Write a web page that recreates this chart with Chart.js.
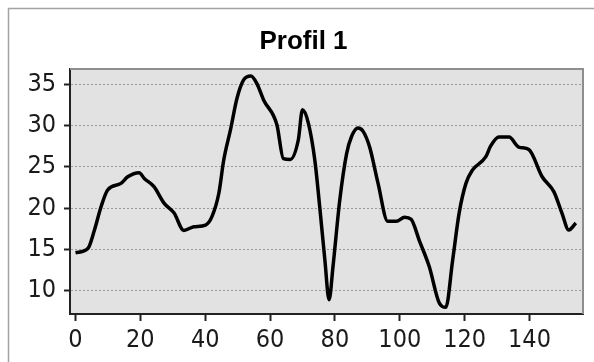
<!DOCTYPE html>
<html>
<head>
<meta charset="utf-8">
<script src="https://cdn.jsdelivr.net/npm/chart.js@4/dist/chart.umd.min.js"></script>
<style>
  html, body { margin: 0; padding: 0; background: #ffffff; }
  #wrap { width: 594px; height: 362px; position: relative; }
</style>
</head>
<body>
<div id="wrap"><canvas id="c" width="594" height="362"></canvas></div>
<script>
const chartTitle = "Profil 1";
const distances = [0, 3.8, 5.8, 7.9, 9.9, 14, 16.1, 19.6, 21.2, 24.2, 27.3, 30.4, 33.4, 36.5, 40.1, 42.1, 44.2, 45.7, 47.8, 49.8, 51.8, 54.1, 55.9, 58.0, 62.1, 64.1, 66.2, 68.7, 70.0, 71.8, 73.8, 75.4, 76.9, 78.2, 79.4, 81.5, 83.6, 85.1, 87.1, 88.7, 90.7, 93.3, 96.3, 98.9, 101.5, 103.5, 106.0, 109.1, 112.2, 114.2, 116.3, 118.3, 120.4, 122.4, 126.5, 128.0, 130.6, 133.7, 136.7, 139.8, 143.9, 147.5, 150.0, 152.1, 154.3];
const heights = [14.6, 15.1, 17.3, 20.2, 22.2, 23.0, 23.8, 24.3, 23.6, 22.6, 20.6, 19.4, 17.3, 17.75, 17.95, 19.0, 21.8, 25.8, 29.5, 33.3, 35.5, 36.0, 35.1, 33.1, 30.1, 26.0, 25.9, 28.25, 31.9, 30.3, 25.8, 19.8, 13.7, 8.9, 12.9, 21.0, 26.6, 28.65, 29.7, 29.3, 27.4, 23.0, 18.4, 18.4, 18.9, 18.65, 16.1, 12.9, 8.5, 8.0, 13.7, 19.4, 23.0, 24.6, 26.2, 27.5, 28.6, 28.6, 27.4, 27.1, 23.8, 22.0, 19.4, 17.35, 18.2];
const xTickStep = 20;
const yTickStep = 5;

const points = distances.map((d, i) => ({ x: d, y: heights[i] }));
const tickFont = { family: "'Liberation Sans Narrow', 'DejaVu Sans Condensed', 'Liberation Sans', sans-serif", size: 25 };

const framePlugin = {
  id: 'frame',
  beforeDraw(chart) {
    const ctx = chart.ctx, a = chart.chartArea;
    ctx.save();
    ctx.fillStyle = '#ffffff';
    ctx.fillRect(0, 0, chart.width, chart.height);
    ctx.strokeStyle = '#a2a2a2';
    ctx.lineWidth = 1.5;
    ctx.beginPath();
    ctx.moveTo(8.5, chart.height);
    ctx.lineTo(8.5, 8.5);
    ctx.lineTo(chart.width, 8.5);
    ctx.stroke();
    ctx.fillStyle = '#e2e2e2';
    ctx.fillRect(a.left, a.top, a.right - a.left, a.bottom - a.top);
    ctx.restore();
  },
  afterDatasetsDraw(chart) {
    const ctx = chart.ctx, a = chart.chartArea;
    ctx.save();
    ctx.strokeStyle = '#8e8e8e';
    ctx.lineWidth = 2;
    ctx.beginPath();
    ctx.moveTo(a.left, a.top);
    ctx.lineTo(a.right, a.top);
    ctx.lineTo(a.right, a.bottom);
    ctx.stroke();
    ctx.restore();
  }
};

new Chart(document.getElementById('c'), {
  type: 'line',
  data: {
    datasets: [{
      data: points,
      borderColor: '#000000',
      borderWidth: 3.5,
      pointRadius: 0,
      tension: 0.35,
      cubicInterpolationMode: 'monotone',
      fill: false
    }]
  },
  options: {
    responsive: false,
    animation: false,
    events: [],
    layout: { padding: { left: 17, right: 4, top: 0, bottom: 0 } },
    plugins: {
      legend: { display: false },
      tooltip: { enabled: false },
      title: {
        display: true,
        text: chartTitle,
        color: '#000000',
        font: { family: "'Liberation Sans', Arial, sans-serif", size: 26, weight: 'bold', lineHeight: 1 },
        padding: { top: 29, bottom: 14 }
      }
    },
    scales: {
      x: {
        type: 'linear',
        min: -1.7,
        max: 156.5,
        ticks: { stepSize: xTickStep, includeBounds: false, color: '#1a1a1a', font: tickFont, padding: 4, maxRotation: 0 },
        grid: { drawOnChartArea: false, drawTicks: true, tickLength: 7, tickColor: '#222222', tickWidth: 2 },
        border: { display: true, color: '#222222', width: 2 },
        afterFit(s) { s.height = 48; }
      },
      y: {
        type: 'linear',
        min: 7.18,
        max: 36.85,
        ticks: { stepSize: yTickStep, includeBounds: false, color: '#1a1a1a', font: tickFont, padding: 8 },
        grid: { color: '#9a9a9a', lineWidth: 1, drawTicks: true, tickLength: 6, tickColor: '#222222', tickWidth: 2 },
        border: { display: true, color: '#222222', width: 2, dash: [2, 2] },
        afterFit(s) { s.width = 53; }
      },
      y2: {
        type: 'linear',
        position: 'right',
        display: true,
        ticks: { display: false },
        grid: { display: false },
        border: { display: false },
        afterFit(s) { s.width = 7; }
      }
    }
  },
  plugins: [framePlugin]
});
</script>
</body>
</html>
